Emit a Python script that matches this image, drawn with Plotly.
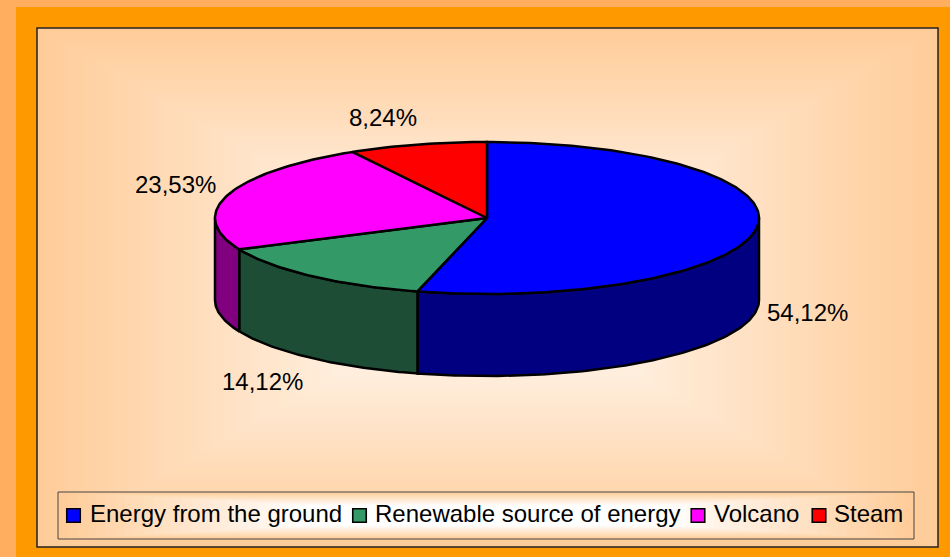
import math
import plotly.graph_objects as go

categories = ["Energy from the ground", "Renewable source of energy", "Volcano", "Steam"]
values = [54.12, 14.12, 23.53, 8.24]
top_colors = ["#0000FF", "#339966", "#FF00FF", "#FF0000"]
side_colors = ["#000080", "#1E4D36", "#800080", "#800000"]

W, H = 950, 557
CX, CY, RX, RY, DEPTH = 487, 218, 272, 76, 82
FONT = dict(family="Liberation Sans, Arial, sans-serif", size=24, color="#000000")
LABEL_POS = [(807, 312), (262, 381), (175, 184), (383, 117)]
SWATCH_X = [73.5, 359.5, 698, 819]
LEGEND_TEXT_X = [88, 373, 712, 832]
SWATCH_Y, LEGEND_TEXT_Y = 515.5, 513


def pt(deg, dy=0):
    r = math.radians(deg)
    return CX + RX * math.sin(r), CY - RY * math.cos(r) + dy


def arc(a, b):
    n = max(2, int(abs(b - a)) + 1)
    return [a + (b - a) * i / (n - 1) for i in range(n)]


def mix(t, edge=(255, 204, 153), centre=(255, 255, 255)):
    return "rgb(%d,%d,%d)" % tuple(round(c + (e - c) * t) for e, c in zip(edge, centre))


shapes = [
    dict(type="rect", x0=16, x1=W, y0=7, y1=H, fillcolor="#FF9900", line_width=0, layer="below")
]


def gradient(x0, x1, y0, y1, steps, flat=0.0):
    cx, cy = (x0 + x1) / 2, (y0 + y1) / 2
    for i in range(steps):
        f = 1 - i / steps
        t = max(0.0, (f - flat) / (1 - flat))
        shapes.append(dict(type="rect", x0=cx - (cx - x0) * f, x1=cx + (x1 - cx) * f,
                           y0=cy - (cy - y0) * f, y1=cy + (y1 - cy) * f,
                           fillcolor=mix(t), line_width=0, layer="below"))


gradient(37, 938, 28, 547, 70)
shapes.append(dict(type="rect", x0=37, x1=938, y0=28, y1=547, line=dict(color="#222222", width=1.5), layer="below"))
gradient(58, 914, 492, 539, 45, flat=0.42)
shapes.append(dict(type="rect", x0=58, x1=914, y0=492, y1=539, line=dict(color="#444444", width=1), layer="below"))

fig = go.Figure()
total = sum(values)
angles = [0]
for v in values:
    angles.append(angles[-1] + v / total * 360)

# side walls first
for i in range(len(values)):
    a = max(angles[i], 90)
    b = min(angles[i + 1], 270)
    if b <= a:
        continue
    seq = arc(a, b)
    upper = [pt(d) for d in seq]
    lower = [pt(d, DEPTH) for d in reversed(seq)]
    poly = upper + lower + [upper[0]]
    fig.add_trace(go.Scatter(x=[p[0] for p in poly], y=[p[1] for p in poly], mode="lines", fill="toself",
                             fillcolor=side_colors[i], line=dict(color="#000000", width=2.5),
                             showlegend=False, hoverinfo="skip"))

# top faces
for i in range(len(values)):
    edge = [pt(d) for d in arc(angles[i], angles[i + 1])]
    poly = [(CX, CY)] + edge + [(CX, CY)]
    fig.add_trace(go.Scatter(x=[p[0] for p in poly], y=[p[1] for p in poly], mode="lines", fill="toself",
                             fillcolor=top_colors[i], line=dict(color="#000000", width=2.5),
                             showlegend=False, name=categories[i], hoverinfo="skip"))

# legend swatches and labels
fig.add_trace(go.Scatter(x=SWATCH_X, y=[SWATCH_Y] * len(SWATCH_X), mode="markers", showlegend=False, hoverinfo="skip",
                         marker=dict(symbol="square", size=13.5, color=top_colors,
                                     line=dict(color="#000000", width=1.6))))

annotations = []
for v, (x, y) in zip(values, LABEL_POS):
    annotations.append(dict(x=x, y=y, xref="x", yref="y", showarrow=False,
                            text=f"{v:.2f}".replace(".", ",") + "%", font=FONT))
for name, x in zip(categories, LEGEND_TEXT_X):
    annotations.append(dict(x=x, y=LEGEND_TEXT_Y, xref="x", yref="y", xanchor="left", showarrow=False,
                            text=name, font=FONT))

fig.update_layout(width=W, height=H, margin=dict(l=0, r=0, t=0, b=0), paper_bgcolor="#FFAD5F",
                  plot_bgcolor="rgba(0,0,0,0)", shapes=shapes, annotations=annotations, showlegend=False,
                  xaxis=dict(range=[0, W], visible=False, fixedrange=True),
                  yaxis=dict(range=[H, 0], visible=False, fixedrange=True))
fig.write_html("out.html", config=dict(displayModeBar=False),
               post_script="document.body.style.margin='0';document.body.style.overflow='hidden';")
